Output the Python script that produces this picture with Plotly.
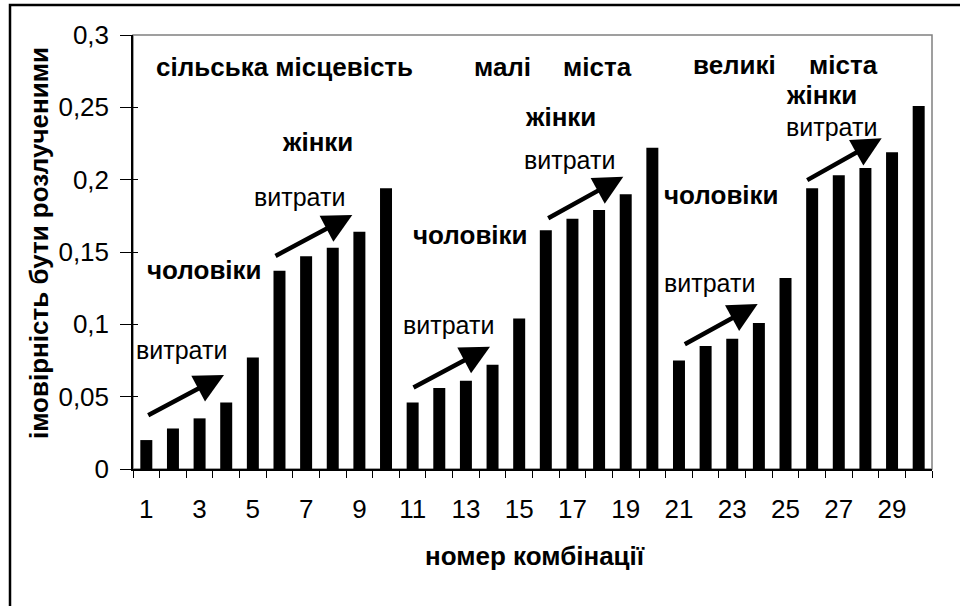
import plotly.graph_objects as go

# ---- data ----
combinations = list(range(1, 31))
probabilities = [0.020, 0.028, 0.035, 0.046, 0.077, 0.137, 0.147, 0.153, 0.164, 0.194,
                 0.046, 0.056, 0.061, 0.072, 0.104, 0.165, 0.173, 0.179, 0.190, 0.222,
                 0.075, 0.085, 0.090, 0.101, 0.132, 0.194, 0.203, 0.208, 0.219, 0.251]
x_tick_values = list(range(1, 31, 2))
x_tick_labels = [str(v) for v in x_tick_values]
y_tick_values = [0, 0.05, 0.1, 0.15, 0.2, 0.25, 0.3]
y_tick_labels = ["0", "0,05", "0,1", "0,15", "0,2", "0,25", "0,3"]

x_title = "номер комбінації"
y_title = "імовірність бути розлученими"

# ---- layout geometry (pixels) ----
W, H = 960, 606
L, R, T, B = 133, 932, 35, 469
FONT = "Liberation Sans, Arial, sans-serif"
FS_BOLD = 26
FS_REG = 25
FS_TICK = 26


def px2x(px):
    return 0.5 + (px - L) / ((R - L) / 30)


def px2y(py):
    return (B - py) / ((B - T) / 0.3)


def pxp(px):
    return (px - L) / (R - L)


def pyp(py):
    return (B - py) / (B - T)


fig = go.Figure()
fig.add_trace(go.Bar(x=combinations, y=probabilities, marker=dict(color="black", line=dict(width=0)),
                     width=0.45, showlegend=False, hoverinfo="x+y"))
# invisible trace to activate the overlay axis carrying the inside half of the cross ticks
fig.add_trace(go.Scatter(x=[None], y=[None], yaxis="y2", showlegend=False, hoverinfo="skip"))

# labels (text, center px x, center px y, bold)
labels = [
    ("сільська місцевість", 284.5, 67, True),
    ("малі", 502, 67, True),
    ("міста", 597, 67, True),
    ("великі", 734.5, 65, True),
    ("міста", 843.5, 65, True),
    ("жінки", 317.5, 142, True),
    ("чоловіки", 204.5, 270, True),
    ("витрати", 181, 350, False),
    ("витрати", 299, 197, False),
    ("витрати", 448, 325, False),
    ("чоловіки", 470.5, 235, True),
    ("жінки", 560, 117, True),
    ("витрати", 569, 160, False),
    ("чоловіки", 721.5, 195, True),
    ("витрати", 709, 283, False),
    ("жінки", 821.5, 95, True),
    ("витрати", 831.5, 127, False),
]
annotations = []
for text, cx, cy, bold in labels:
    annotations.append(dict(
        text=f"<b>{text}</b>" if bold else text,
        x=px2x(cx), y=px2y(cy), xref="x", yref="y",
        xanchor="center", yanchor="middle", showarrow=False,
        font=dict(family=FONT, size=FS_BOLD if bold else FS_REG, color="black")))

# arrows (tail px, head px)
arrows = [
    ((146.7, 416), (224, 375)),
    ((274, 256.7), (352.3, 215)),
    ((412, 388.3), (490, 346.7)),
    ((546.7, 219), (623.3, 176.7)),
    ((683.3, 345), (757.7, 304)),
    ((805.7, 181), (881.7, 138.3)),
]
for (tx, ty), (hx, hy) in arrows:
    annotations.append(dict(
        x=px2x(hx), y=px2y(hy), xref="x", yref="y",
        ax=tx - hx, ay=ty - hy, text="", showarrow=True,
        arrowhead=2, arrowsize=1.3, arrowwidth=4.5, arrowcolor="black", standoff=0))

# axis titles
annotations.append(dict(text=f"<b>{x_title}</b>", x=pxp(535), y=pyp(556), xref="paper", yref="paper",
                        xanchor="center", yanchor="middle", showarrow=False,
                        font=dict(family=FONT, size=FS_BOLD, color="black")))
annotations.append(dict(text=f"<b>{y_title}</b>", x=pxp(39), y=pyp(243), xref="paper", yref="paper",
                        xanchor="center", yanchor="middle", showarrow=False, textangle=-90,
                        font=dict(family=FONT, size=FS_BOLD, color="black")))

shapes = [
    # plot area border (grey)
    dict(type="rect", xref="paper", yref="paper", x0=0, x1=1, y0=0, y1=1,
         line=dict(color="#808080", width=1.5), layer="below"),
    # outer chart frame (top and left visible)
    dict(type="rect", xref="paper", yref="paper", x0=pxp(10), x1=pxp(1000), y0=pyp(700), y1=pyp(5),
         line=dict(color="black", width=2.5), layer="above"),
]

fig.update_layout(
    width=W, height=H,
    margin=dict(l=L, r=W - R, t=T, b=H - B, pad=0),
    paper_bgcolor="white", plot_bgcolor="white",
    font=dict(family=FONT, size=FS_TICK, color="black"),
    bargap=0.55,
    xaxis=dict(range=[0.5, 30.5], tickmode="array", tickvals=x_tick_values, ticktext=x_tick_labels,
               ticks="", showgrid=False, zeroline=False, showline=True, linecolor="black", linewidth=1.5,
               ticklabelstandoff=16,
               minor=dict(tickmode="array", tickvals=[i + 0.5 for i in range(31)], ticks="outside",
                          ticklen=7, tickcolor="black", tickwidth=1.2, showgrid=False),
               tickfont=dict(family=FONT, size=FS_TICK, color="black"), fixedrange=True),
    yaxis=dict(range=[0, 0.3], tickmode="array", tickvals=y_tick_values, ticktext=y_tick_labels,
               ticks="outside", ticklen=11, tickcolor="black", tickwidth=1.2,
               showgrid=False, zeroline=False, showline=True, linecolor="black", linewidth=1.5,
               ticklabelstandoff=6,
               tickfont=dict(family=FONT, size=FS_TICK, color="black"), fixedrange=True),
    yaxis2=dict(range=[0, 0.3], overlaying="y", side="left", tickmode="array", tickvals=y_tick_values,
                ticks="inside", ticklen=5, tickcolor="black", tickwidth=1.2, showticklabels=False,
                showgrid=False, zeroline=False, showline=False, fixedrange=True),
    annotations=annotations,
    shapes=shapes,
)

fig.write_html("out.html", config={"displayModeBar": False},
               post_script="document.body.style.margin='0px';")
